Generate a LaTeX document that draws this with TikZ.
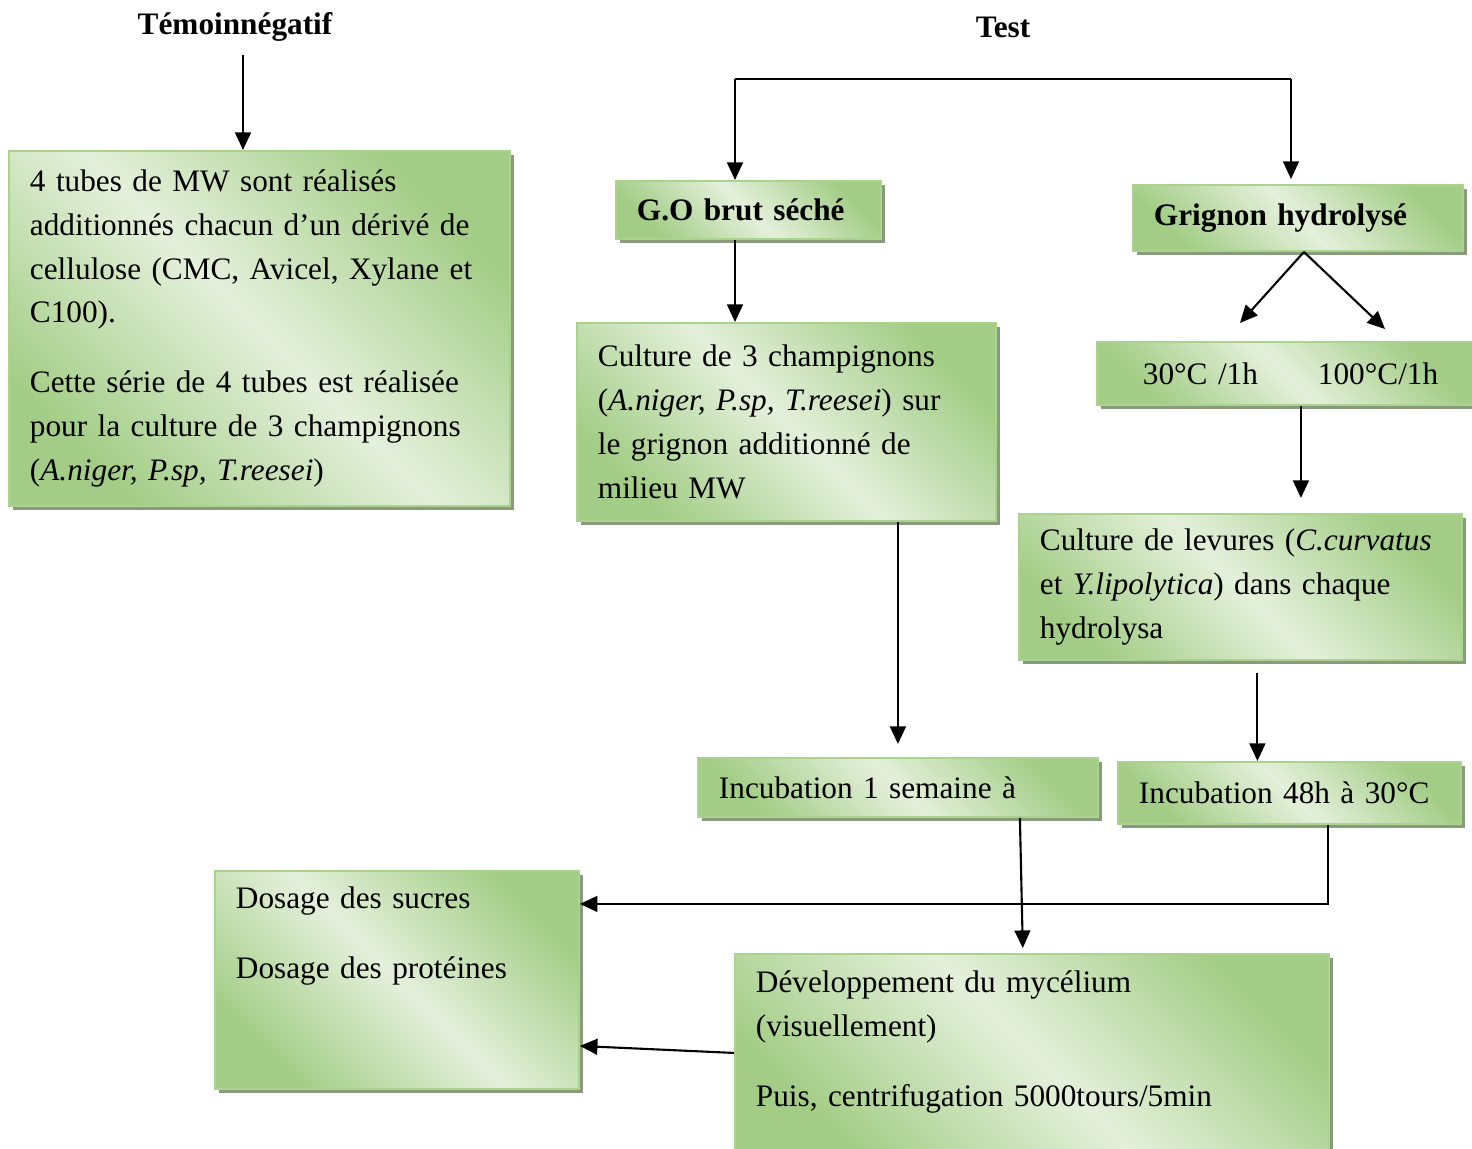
\documentclass[tikz,border=0pt]{standalone}
\usepackage{fontspec}
\setmainfont{Liberation Serif}
\usetikzlibrary{arrows.meta, shadows, positioning}

\definecolor{gdark}{RGB}{163,205,134}
\definecolor{glight}{RGB}{228,240,219}
\definecolor{gborder}{RGB}{170,212,142}
\definecolor{shadowc}{RGB}{138,154,124}

\begin{document}
\begin{tikzpicture}[x=0.02cm, y=-0.02cm,
    font=\fontsize{17.8}{25}\selectfont,
    box/.style={rectangle, draw=gborder, line width=1.1pt,
      top color=gdark, bottom color=gdark, middle color=glight, shading angle=-45,
      drop shadow={shadow xshift=2.4pt, shadow yshift=-2.4pt, fill=shadowc, opacity=1},
      inner xsep=0.42cm, inner ysep=0pt, align=left, anchor=north west},
    title/.style={font=\fontsize{17.8}{25}\selectfont\bfseries},
    arr/.style={line width=1.2pt, -{Triangle[length=10pt,width=9pt]}}]
    % Background
    \useasboundingbox (0,0) rectangle (1472,1149);

    % Titles
    \node[title] (temoin) at (235,27) {Témoinnégatif};
    \node[title] (test) at (1003,27) {Test};

    % Boxes
    \node[box, text width=9.18cm, minimum height=7.1cm] (tubes) at (8,150)
      {4 tubes de MW sont réalisés\\
       additionnés chacun d’un dérivé de\\
       cellulose (CMC, Avicel, Xylane et\\
       C100).\\[0.52cm]
       Cette série de 4 tubes est réalisée\\
       pour la culture de 3 champignons\\
       (\textit{A.niger, P.sp, T.reesei})};

    \node[box, text width=4.46cm, minimum height=1.16cm] (brut) at (615,180)
      {\textbf{G.O brut séché}};
    \node[box, text width=5.76cm, minimum height=1.32cm] (grignon) at (1132,184)
      {\textbf{Grignon hydrolysé}};

    \node[box, text width=7.54cm, minimum height=3.96cm] (champ) at (576,322)
      {Culture de 3 champignons\\
       (\textit{A.niger, P.sp, T.reesei}) sur\\
       le grignon additionné de\\
       milieu MW};

    \node[box, text width=6.68cm, minimum height=1.26cm] (temp) at (1096,341)
      {\hspace*{0.5cm}30°C /1h\hspace{1.2cm}100°C/1h};

    \node[box, text width=8.02cm, minimum height=2.92cm] (levures) at (1018,513)
      {Culture de levures (\textit{C.curvatus}\\
       et \textit{Y.lipolytica}) dans chaque\\
       hydrolysa};

    \node[box, text width=7.16cm, minimum height=1.18cm] (incubA) at (697,757)
      {Incubation 1 semaine à};
    \node[box, text width=6.02cm, minimum height=1.24cm] (incubB) at (1117,761)
      {Incubation 48h à 30°C};

    \node[box, text width=6.44cm, minimum height=4.36cm] (dosage) at (214,870)
      {Dosage des sucres\\[0.52cm]
       Dosage des protéines\\[1.0cm]\mbox{}};

    \node[box, text width=11.04cm, minimum height=3.96cm] (myc) at (734,953)
      {Développement du mycélium\\
       (visuellement)\\[0.52cm]
       Puis, centrifugation 5000tours/5min\\[-0.3cm]\mbox{}};

    % Connectors
    \coordinate (splitL) at (735,79);
    \coordinate (splitR) at (1291,79);
    \coordinate (to30) at (1240,323);
    \coordinate (to100) at (1385,329);

    \draw[arr] ([xshift=0.16cm,yshift=-0.14cm]temoin.south) -- ([xshift=0.16cm]temoin.south |- tubes.north);
    \draw[line width=1.2pt] (splitL) -- (splitR);
    \draw[arr] (splitL) -- (splitL |- brut.north);
    \draw[arr] (splitR) -- ([yshift=0.1cm]splitR |- grignon.north);
    \draw[arr] (splitL |- brut.south) -- (splitL |- champ.north);
    \draw[arr] ([xshift=0.12cm]grignon.south) -- (to30);
    \draw[arr] ([xshift=0.12cm]grignon.south) -- (to100);
    \draw[arr, shorten >=0.3cm] ([xshift=0.32cm]temp.south) -- ([xshift=0.32cm]temp.south |- levures.north);
    \draw[arr, shorten >=0.26cm] (incubA.north |- champ.south) -- (incubA.north);
    \draw[arr, shorten <=0.24cm] ([xshift=0.34cm]levures.south) -- ([xshift=0.34cm]levures.south |- incubB.north);
    \draw[arr, shorten >=0.1cm] ([xshift=2.44cm]incubA.south) -- ([xshift=-0.18cm]myc.north);
    \draw[arr] ([xshift=0.77cm]incubB.south) |- ([yshift=1.52cm]dosage.east);
    \draw[arr] (myc.west) -- ([yshift=-1.32cm]dosage.east);
\end{tikzpicture}
\end{document}
